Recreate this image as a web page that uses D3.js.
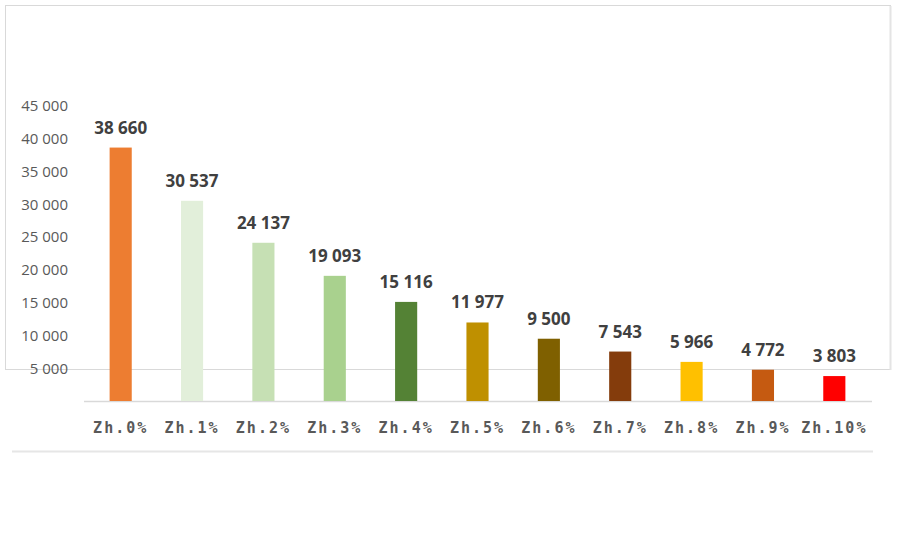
<!DOCTYPE html>
<html>
<head>
<meta charset="utf-8">
<script src="https://cdn.jsdelivr.net/npm/d3@7"></script>
<style>
    html, body { margin: 0; padding: 0; background: #fff; }
    #chart { width: 900px; height: 549px; }
</style>
</head>
<body>
<div id="chart"></div>
<script>
// Chart data
const categories = ["Zh.0%", "Zh.1%", "Zh.2%", "Zh.3%", "Zh.4%", "Zh.5%", "Zh.6%", "Zh.7%", "Zh.8%", "Zh.9%", "Zh.10%"];
const values = [38660, 30537, 24137, 19093, 15116, 11977, 9500, 7543, 5966, 4772, 3803];
const barColors = ["#ED7D31", "#E2EFDA", "#C6E0B4", "#A9D18E", "#548235", "#BF9000", "#7F6000", "#843C0C", "#FFC000", "#C55A11", "#FF0000"];
const yTicks = [5000, 10000, 15000, 20000, 25000, 30000, 35000, 40000, 45000];

const fmt = v => d3.format(",")(v).replace(/,/g, " ");

const svg = d3.select("#chart").append("svg")
    .attr("width", 900)
    .attr("height", 549);

// Frame of the pasted screenshot
svg.append("rect")
    .attr("x", 5.5).attr("y", 5.5)
    .attr("width", 885).attr("height", 364)
    .attr("fill", "#fff")
    .attr("stroke", "#d9d9d9")
    .attr("stroke-width", 1);
svg.append("line")
    .attr("x1", 890.5).attr("x2", 890.5).attr("y1", 6).attr("y2", 370)
    .attr("stroke", "#e4e4e4").attr("stroke-width", 2);
// Lower strip pasted over the frame
svg.append("rect")
    .attr("x", 10).attr("y", 371)
    .attr("width", 863).attr("height", 84)
    .attr("fill", "#fff");
svg.append("line")
    .attr("x1", 12).attr("x2", 873).attr("y1", 451.5).attr("y2", 451.5)
    .attr("stroke", "#e6e6e6").attr("stroke-width", 2);

const x = d3.scaleBand()
    .domain(categories)
    .range([85, 870])
    .paddingInner(0.69)
    .paddingOuter(0.345);

const y = d3.scaleLinear()
    .domain([0, 45000])
    .range([401, 106]);

// Y axis labels (no axis line)
const yAxis = svg.append("g")
    .attr("transform", "translate(68,0)")
    .call(d3.axisLeft(y).tickValues(yTicks).tickSize(0).tickPadding(0).tickFormat(fmt));
yAxis.select(".domain").remove();
yAxis.selectAll("text")
    .attr("fill", "#595959")
    .style("font-family", "'Open Sans', sans-serif")
    .style("font-size", "15px");

// X axis
const xAxis = svg.append("g")
    .attr("transform", "translate(0,401.5)")
    .call(d3.axisBottom(x).tickSize(0).tickPadding(21));
xAxis.select(".domain")
    .attr("d", "M84,0H872")
    .attr("stroke", "#d9d9d9")
    .attr("stroke-width", 1.5);
xAxis.selectAll("text")
    .attr("fill", "#595959")
    .style("font-family", "'DejaVu Sans Mono', monospace")
    .style("font-weight", "bold")
    .style("font-size", "15px")
    .style("letter-spacing", "2px");

// Bars
svg.selectAll("rect.bar")
    .data(values)
    .join("rect")
    .attr("class", "bar")
    .attr("x", (d, i) => x(categories[i]))
    .attr("y", d => y(d))
    .attr("width", x.bandwidth())
    .attr("height", d => y(0) - y(d))
    .attr("fill", (d, i) => barColors[i]);

// Value labels
svg.selectAll("text.val")
    .data(values)
    .join("text")
    .attr("class", "val")
    .attr("x", (d, i) => x(categories[i]) + x.bandwidth() / 2)
    .attr("y", d => y(d) - 14)
    .attr("text-anchor", "middle")
    .attr("fill", "#404040")
    .style("font-family", "'Open Sans', sans-serif")
    .style("font-weight", "bold")
    .style("font-size", "17px")
    .text(fmt);
</script>
</body>
</html>
